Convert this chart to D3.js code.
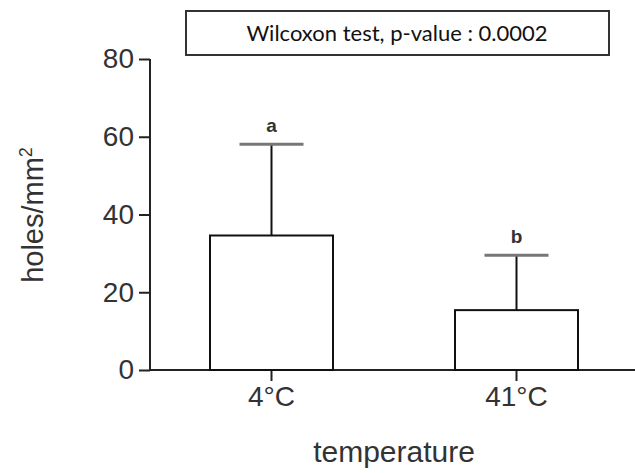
<!DOCTYPE html>
<html>
<head>
<meta charset="utf-8">
<script src="https://cdn.jsdelivr.net/npm/d3@7"></script>
<style>
  body { margin: 0; background: #fff; }
  svg { display: block; }
</style>
</head>
<body>
<div id="chart"></div>
<script>
const categories = ["4°C", "41°C"];
const means = [34.6, 15.4];
const upperErr = [58.1, 29.5];
const letters = ["a", "b"];
const yTicks = [0, 20, 40, 60, 80];

const width = 635, height = 473;
const font = "'Liberation Sans', Arial, sans-serif";

const svg = d3.select("#chart")
    .append("svg")
    .attr("width", width)
    .attr("height", height);

const x = d3.scaleBand()
    .domain(categories)
    .range([210, 578])
    .paddingInner(0.498);

const y = d3.scaleLinear()
    .domain([0, 80])
    .range([370, 59]);

// y axis
const yAxis = svg.append("g")
    .attr("transform", "translate(150,0)")
    .call(d3.axisLeft(y).tickValues(yTicks).tickSize(11).tickPadding(5));
yAxis.select(".domain").attr("stroke", "#222").attr("stroke-width", 2)
    .attr("d", `M0,${y(80)}V${y(0)}`);
yAxis.selectAll(".tick line").attr("stroke", "#222").attr("stroke-width", 2);
yAxis.selectAll(".tick text")
    .style("font-family", font)
    .style("font-size", "28px")
    .attr("fill", "#333");

// x axis
const xAxis = svg.append("g")
    .attr("transform", "translate(0,370)")
    .call(d3.axisBottom(x).tickSize(11).tickPadding(5));
xAxis.select(".domain").attr("stroke", "#222").attr("stroke-width", 2)
    .attr("d", "M150,0H635");
xAxis.selectAll(".tick line").attr("stroke", "#222").attr("stroke-width", 2);
xAxis.selectAll(".tick text")
    .style("font-family", font)
    .style("font-size", "28px")
    .attr("fill", "#333");

// bars
svg.selectAll("rect.bar")
    .data(categories)
    .enter()
    .append("rect")
    .attr("class", "bar")
    .attr("x", d => x(d))
    .attr("y", (d, i) => y(means[i]))
    .attr("width", x.bandwidth())
    .attr("height", (d, i) => y(0) - y(means[i]))
    .attr("fill", "white")
    .attr("stroke", "#111")
    .attr("stroke-width", 2);

// error bars (upper only)
svg.selectAll("line.err")
    .data(categories)
    .enter()
    .append("line")
    .attr("class", "err")
    .attr("x1", d => x(d) + x.bandwidth() / 2)
    .attr("x2", d => x(d) + x.bandwidth() / 2)
    .attr("y1", (d, i) => y(means[i]))
    .attr("y2", (d, i) => y(upperErr[i]))
    .attr("stroke", "#111")
    .attr("stroke-width", 2);

svg.selectAll("line.cap")
    .data(categories)
    .enter()
    .append("line")
    .attr("class", "cap")
    .attr("x1", d => x(d) + x.bandwidth() / 2 - 32)
    .attr("x2", d => x(d) + x.bandwidth() / 2 + 32)
    .attr("y1", (d, i) => y(upperErr[i]))
    .attr("y2", (d, i) => y(upperErr[i]))
    .attr("stroke", "#777")
    .attr("stroke-width", 3);

svg.selectAll("text.letter")
    .data(categories)
    .enter()
    .append("text")
    .attr("class", "letter")
    .attr("x", d => x(d) + x.bandwidth() / 2)
    .attr("y", (d, i) => y(upperErr[i]) - 12)
    .attr("text-anchor", "middle")
    .style("font-family", font)
    .style("font-size", "19px")
    .style("font-weight", "bold")
    .attr("fill", "#333")
    .text((d, i) => letters[i]);

// axis titles
svg.append("text")
    .attr("x", 394)
    .attr("y", 462)
    .attr("text-anchor", "middle")
    .style("font-family", font)
    .style("font-size", "30px")
    .attr("fill", "#333")
    .text("temperature");

const yTitle = svg.append("text")
    .attr("transform", "translate(43,215) rotate(-90)")
    .attr("text-anchor", "middle")
    .style("font-family", font)
    .style("font-size", "29px")
    .attr("fill", "#333");
yTitle.append("tspan").text("holes/mm");
yTitle.append("tspan").attr("dy", -11).style("font-size", "18px").text("2");

// test box
svg.append("rect")
    .attr("x", 186)
    .attr("y", 11)
    .attr("width", 423)
    .attr("height", 44)
    .attr("fill", "white")
    .attr("stroke", "#333")
    .attr("stroke-width", 2);

svg.append("text")
    .attr("x", 397)
    .attr("y", 41)
    .attr("text-anchor", "middle")
    .style("font-family", "Lato, 'Open Sans', sans-serif")
    .style("font-size", "22px")
    .attr("fill", "#111")
    .text("Wilcoxon test, p-value : 0.0002");
</script>
</body>
</html>
